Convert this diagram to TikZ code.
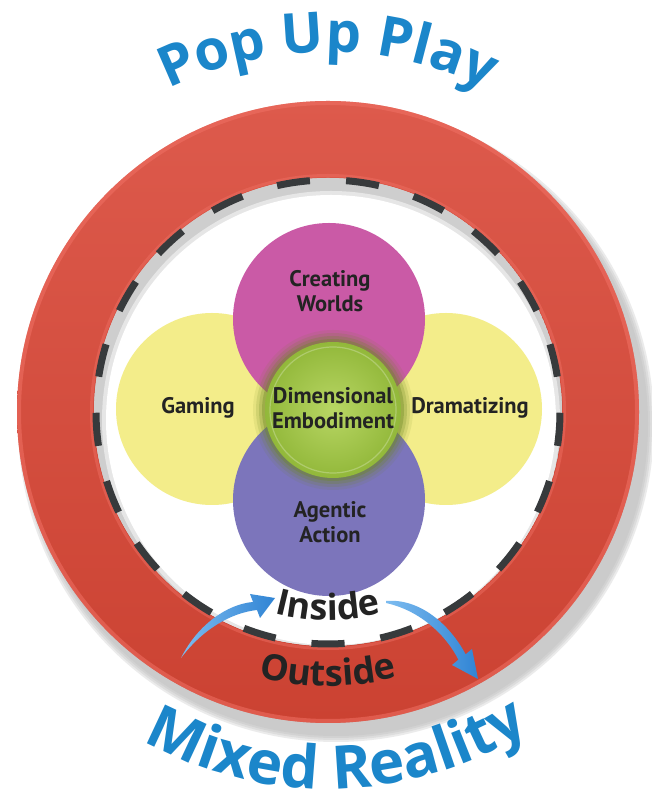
\documentclass[tikz,border=0pt]{standalone}
\usepackage{fontspec}
\setmainfont{Open Sans}
\newfontfamily\lblfont{PT Sans}
\usetikzlibrary{calc,decorations.text}

\definecolor{popblue}{RGB}{27,134,202}
\definecolor{ringtop}{RGB}{221,90,76}
\definecolor{ringbot}{RGB}{203,66,50}
\definecolor{ringhi}{RGB}{240,112,100}
\definecolor{dashgray}{RGB}{55,58,60}
\definecolor{petalyellow}{RGB}{243,237,138}
\definecolor{petalpink}{RGB}{202,90,166}
\definecolor{petalpurple}{RGB}{124,117,187}
\definecolor{corelight}{RGB}{184,214,100}
\definecolor{coredark}{RGB}{146,184,58}
\definecolor{coreglow}{RGB}{110,136,38}
\definecolor{labelink}{RGB}{35,35,35}
\definecolor{arrowblue}{RGB}{48,132,212}
\definecolor{arrowlight}{RGB}{125,188,240}
\definecolor{shadowgray}{RGB}{185,185,185}
\definecolor{innershade}{RGB}{206,206,206}

\newcommand\titlefont{\fontsize{56}{56}\selectfont\bfseries\color{popblue}}
\newcommand\bottomfont{\fontsize{60}{60}\selectfont\bfseries\color{popblue}}
\newcommand\ringfont{\fontsize{36}{36}\selectfont\bfseries\color{labelink}}

\begin{document}
\begin{tikzpicture}[x=1pt,y=1pt,
  petal/.style={circle, minimum size=192pt, inner sep=0pt, draw=none},
  lbl/.style={font=\lblfont\bfseries\fontsize{22.5}{25.5}\selectfont, text=labelink, align=center, inner sep=0pt},
  dashline/.style={draw=dashgray, line width=7pt},
  ]
\useasboundingbox (0,0) rectangle (652,805);
\fill[white] (0,0) rectangle (652,805);
\coordinate (C) at (328,393);
\coordinate (F) at (329,396);

% soft drop shadow under the ring
\foreach \k in {7,5,3,1}{\fill[shadowgray, opacity=.28] ($(C)+(8,-12)$) circle[radius=311+\k];}

% red ring with bevelled edges
\shade[even odd rule, top color=ringtop, bottom color=ringbot] (C) circle[radius=311] (C) circle[radius=234];
\draw[ringhi, line width=4pt, opacity=.55] (C) circle[radius=309];
\draw[ringhi, line width=3pt, opacity=.45] (C) circle[radius=236.5];

% interior disc with shade along the upper rim
\begin{scope}
  \clip (C) circle[radius=234];
  \fill[innershade] (C) circle[radius=234];
  \fill[white, opacity=.5] ($(C)+(3,-8)$) circle[radius=229];
  \fill[white] ($(C)+(3,-8)$) circle[radius=225];
\end{scope}

% dashed boundary
\foreach \i in {0,...,20}{
  \pgfmathsetmacro\s{270+\i*360/21-4.1}
  \pgfmathsetmacro\e{270+\i*360/21+4.1}
  \draw[dashline] ($(C)+(\s:232)$) arc[start angle=\s, end angle=\e, radius=232];
}

% petals
\node[petal, fill=petalyellow] (gaming) at ($(F)+(-117,0)$) {};
\node[petal, fill=petalyellow] (drama) at ($(F)+(117,0)$) {};
\node[petal, fill=petalpink] (worlds) at ($(F)+(0,90)$) {};
\node[petal, fill=petalpurple] (agentic) at ($(F)+(0,-91)$) {};

% glowing core
\coordinate (K) at ($(F)+(4,-1)$);
\foreach \r/\o in {80/.10,77/.16,74/.24,71/.36}{\fill[coreglow, opacity=\o] (K) circle[radius=\r];}
\node[circle, minimum size=136pt, inner sep=0pt, inner color=corelight, outer color=coredark] (core) at (K) {};
\draw[white, opacity=.25, line width=1.2pt] (core.center) circle[radius=63];

% labels
\node[lbl] (tworlds) at (330,514) {Creating\\Worlds};
\node[lbl] (tgaming) at (198,397) {Gaming};
\node[lbl] (tdrama) at (470,397) {Dramatizing};
\node[lbl] (tagentic) at (330,283) {Agentic\\Action};
\node[lbl] (tcore) at (333,397) {Dimensional\\Embodiment};

% inside / outside
\path[decorate, decoration={text along path, text align=center, text={|\ringfont|Inside}}]
  ($(C)+(200:208)$) arc[start angle=200, end angle=340, radius=208];
\path[decorate, decoration={text along path, text align=center, text={|\ringfont|Outside}}]
  ($(C)+(200:274)$) arc[start angle=200, end angle=340, radius=274];

% crossing arrows
\begin{scope}[shift={(0,805)}, yscale=-1]
  \shade[left color=arrowlight, right color=arrowblue]
    (181,658) .. controls (198,624) and (228,604) .. (253,602) -- (250,594) -- (275,598)
    -- (260,618) -- (257,610) .. controls (230,613) and (202,630) .. (181,658) -- cycle;
  \shade[left color=arrowlight, right color=arrowblue]
    (386,601) .. controls (420,598) and (450,625) .. (465.6,654.3) -- (472,649) -- (478,679)
    -- (452,665) -- (458.4,659.7) .. controls (445,633) and (418,610) .. (386,603) -- cycle;
\end{scope}

% titles
\path[decorate, decoration={text along path, text align=center, text={|\titlefont|Pop Up Play}}]
  ($(C)+(160:360)$) arc[start angle=160, end angle=20, radius=360];
\path[decorate, decoration={text along path, text align=center, text={|\bottomfont|Mixed Reality}}]
  ($(C)+(201.5:377)$) arc[start angle=201.5, end angle=341.5, radius=377];
\end{tikzpicture}
\end{document}
